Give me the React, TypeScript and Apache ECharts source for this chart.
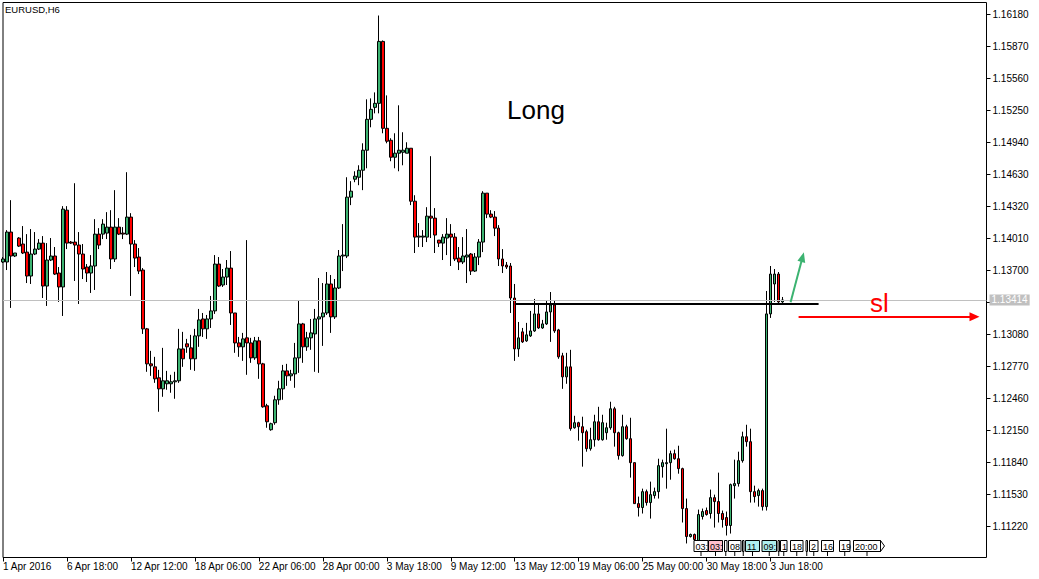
import React, { useEffect, useRef } from "react";
import * as echarts from "echarts";

// ---- candle data (EURUSD H6) ----
const openP = [
  1.13782,1.13782,1.14072,1.13840,1.14014,1.13956,1.13878,1.13646,1.13859,1.13907,
  1.13965,1.13549,1.13801,1.13840,1.13675,1.13540,1.14284,1.13975,1.13975,1.13946,
  1.13859,1.13733,1.13675,1.13743,1.14052,1.14052,1.14062,1.14120,1.13811,1.14120,
  1.14062,1.14052,1.14217,1.13956,1.13830,1.13704,1.13134,1.12795,1.12766,1.12660,
  1.12553,1.12602,1.12602,1.12621,1.12631,1.12940,1.12989,1.12950,1.12844,1.13066,
  1.13230,1.13134,1.13230,1.13308,1.13762,1.13559,1.13636,1.13723,1.13288,1.12998,
  1.12960,1.13047,1.12998,1.12853,1.13018,1.12795,1.12389,1.12157,1.12225,1.12447,
  1.12553,1.12727,1.12679,1.12698,1.12853,1.13182,1.12960,1.13047,1.13085,1.13230,
  1.13250,1.13288,1.13569,1.13250,1.13530,1.13840,1.13840,1.14410,1.14584,1.14603,
  1.14671,1.14865,1.15164,1.15280,1.15319,1.15919,1.15077,1.14961,1.14797,1.14836,
  1.14845,1.14836,1.14884,1.14371,1.14023,1.14023,1.14023,1.14226,1.14207,1.13994,
  1.13965,1.14014,1.14052,1.14023,1.13820,1.13782,1.13830,1.13859,1.13694,1.13830,
  1.13975,1.14449,1.14246,1.14217,1.14110,1.13811,1.13752,1.13743,1.13433,1.12940,
  1.13105,1.13018,1.13066,1.13114,1.13279,1.13143,1.13182,1.13298,1.13366,1.13124,
  1.12873,1.12669,1.12766,1.12176,1.12225,1.12186,1.12138,1.11973,1.12060,1.12234,
  1.12060,1.12128,1.12176,1.12360,1.12128,1.11906,1.12186,1.12070,1.11838,1.11441,
  1.11403,1.11557,1.11451,1.11519,1.11557,1.11799,1.11828,1.11838,1.11925,1.11876,
  1.11780,1.11393,1.11122,1.11142,1.11084,1.11316,1.11374,1.11345,1.11499,1.11461,
  1.11345,1.11306,1.11229,1.11615,1.11635,1.11857,1.12089,1.12041,1.11557,1.11519,
  1.11567,1.11412,1.13279,1.13569,1.13665,1.13395
];
const closeP = [
  1.13811,1.14072,1.13840,1.13869,1.13936,1.13869,1.13646,1.13859,1.13907,1.13965,
  1.13549,1.13801,1.13840,1.13665,1.13540,1.14294,1.13965,1.13965,1.13946,1.13859,
  1.13714,1.13675,1.13743,1.14052,1.13946,1.14149,1.14120,1.13811,1.14120,1.14052,
  1.14052,1.14217,1.13956,1.13820,1.13694,1.13134,1.12795,1.12776,1.12650,1.12553,
  1.12631,1.12631,1.12621,1.12631,1.12940,1.12844,1.12960,1.12844,1.13066,1.13221,
  1.13134,1.13230,1.13308,1.13762,1.13549,1.13636,1.13723,1.13288,1.12998,1.12960,
  1.13037,1.12998,1.12853,1.13018,1.12795,1.12379,1.12234,1.12215,1.12447,1.12553,
  1.12727,1.12679,1.12698,1.12853,1.13182,1.12960,1.13047,1.13095,1.13230,1.13250,
  1.13288,1.13569,1.13250,1.13530,1.13840,1.13849,1.14410,1.14468,1.14613,1.14671,
  1.14865,1.15164,1.15261,1.15319,1.15919,1.15077,1.14952,1.14797,1.14836,1.14865,
  1.14865,1.14884,1.14371,1.14023,1.14033,1.14033,1.14226,1.14207,1.14043,1.13965,
  1.14023,1.14052,1.14023,1.13811,1.13782,1.13840,1.13849,1.13694,1.13830,1.13975,
  1.14449,1.14246,1.14217,1.14110,1.13811,1.13743,1.13733,1.13433,1.12940,1.13047,
  1.13008,1.13076,1.13114,1.13279,1.13143,1.13182,1.13298,1.13366,1.13114,1.12863,
  1.12669,1.12766,1.12167,1.12225,1.12186,1.12128,1.11973,1.12060,1.12234,1.12060,
  1.12225,1.12176,1.12360,1.12128,1.11906,1.12186,1.12070,1.11838,1.11441,1.11403,
  1.11557,1.11451,1.11528,1.11557,1.11809,1.11838,1.11838,1.11925,1.11876,1.11780,
  1.11393,1.11122,1.11142,1.11093,1.11335,1.11364,1.11335,1.11499,1.11461,1.11345,
  1.11287,1.11229,1.11625,1.11635,1.11857,1.12089,1.12041,1.11557,1.11509,1.11567,
  1.11412,1.13279,1.13665,1.13665,1.13395,1.13414
];
const lowP = [
  1.13772,1.13704,1.13337,1.13830,1.13927,1.13859,1.13578,1.13569,1.13849,1.13898,
  1.13433,1.13356,1.13791,1.13656,1.13395,1.13259,1.13907,1.13956,1.13598,1.13375,
  1.13617,1.13588,1.13482,1.13511,1.13907,1.14004,1.14004,1.13714,1.13782,1.14043,
  1.14004,1.14043,1.13453,1.13733,1.13665,1.13085,1.12718,1.12679,1.12611,1.12331,
  1.12476,1.12544,1.12515,1.12457,1.12611,1.12766,1.12902,1.12737,1.12727,1.12960,
  1.13056,1.13037,1.13143,1.13279,1.13540,1.13540,1.13559,1.13172,1.12902,1.12863,
  1.12824,1.12689,1.12805,1.12834,1.12650,1.12370,1.12176,1.12147,1.12205,1.12399,
  1.12447,1.12582,1.12631,1.12563,1.12708,1.12805,1.12921,1.12931,1.12718,1.12708,
  1.12969,1.13269,1.13095,1.13230,1.13520,1.13694,1.13820,1.14333,1.14555,1.14526,
  1.14478,1.14690,1.15087,1.15222,1.15222,1.15029,1.14932,1.14758,1.14690,1.14661,
  1.14719,1.14836,1.14333,1.13869,1.13927,1.13927,1.13975,1.14014,1.13869,1.13927,
  1.13801,1.13849,1.13743,1.13791,1.13704,1.13762,1.13578,1.13656,1.13685,1.13752,
  1.13878,1.14207,1.14207,1.14033,1.13743,1.13675,1.13714,1.13288,1.12824,1.12863,
  1.12998,1.13008,1.13056,1.13105,1.13134,1.13134,1.13172,1.13008,1.13095,1.12844,
  1.12553,1.12602,1.12147,1.12167,1.12051,1.11799,1.11944,1.11954,1.11993,1.12051,
  1.12051,1.12060,1.12157,1.11993,1.11867,1.11896,1.12060,1.11693,1.11441,1.11316,
  1.11345,1.11422,1.11296,1.11490,1.11490,1.11693,1.11586,1.11673,1.11867,1.11731,
  1.11258,1.11055,1.11113,1.11084,1.11074,1.11287,1.11325,1.11296,1.11209,1.11258,
  1.11209,1.11132,1.11151,1.11490,1.11606,1.11838,1.11993,1.11451,1.11451,1.11412,
  1.11374,1.11374,1.13240,1.13395,1.13375,1.13385
];
const highP = [
  1.13830,1.14091,1.14381,1.13869,1.14023,1.14130,1.14052,1.14101,1.14072,1.14004,
  1.14033,1.13965,1.14014,1.13927,1.13733,1.14323,1.14323,1.13985,1.14545,1.14072,
  1.13956,1.13762,1.13849,1.14197,1.14110,1.14197,1.14265,1.14284,1.14478,1.14207,
  1.14120,1.14652,1.14255,1.13994,1.13917,1.13723,1.13143,1.12921,1.12863,1.12737,
  1.12950,1.12727,1.12689,1.12718,1.13134,1.13105,1.13037,1.13076,1.13134,1.13327,
  1.13288,1.13269,1.13453,1.13849,1.13830,1.13714,1.13801,1.13888,1.13288,1.13056,
  1.13095,1.13994,1.13047,1.13056,1.13056,1.12805,1.12408,1.12225,1.12486,1.12631,
  1.12785,1.12795,1.12737,1.12998,1.13404,1.13192,1.13105,1.13230,1.13327,1.13627,
  1.13578,1.13685,1.13656,1.13617,1.13898,1.14149,1.14603,1.14565,1.14661,1.14719,
  1.14932,1.15358,1.15367,1.15425,1.16170,1.15928,1.15396,1.14981,1.15029,1.15300,
  1.15039,1.14942,1.14884,1.14429,1.14159,1.14091,1.14313,1.14807,1.14304,1.13994,
  1.14052,1.14207,1.14149,1.14062,1.13927,1.14023,1.14101,1.13869,1.13869,1.14004,
  1.14468,1.14449,1.14284,1.14275,1.14139,1.13907,1.13782,1.13772,1.13569,1.13201,
  1.13143,1.13192,1.13308,1.13424,1.13366,1.13221,1.13404,1.13491,1.13404,1.13134,
  1.12902,1.12902,1.12931,1.12292,1.12234,1.12283,1.12157,1.12176,1.12302,1.12379,
  1.12302,1.12225,1.12428,1.12379,1.12138,1.12302,1.12205,1.12273,1.11838,1.11509,
  1.11586,1.11577,1.11654,1.11596,1.11876,1.11867,1.12167,1.11954,1.11964,1.12002,
  1.11789,1.11490,1.11151,1.11151,1.11383,1.11393,1.11403,1.11577,1.11528,1.11741,
  1.11374,1.11364,1.11635,1.11867,1.11944,1.12138,1.12205,1.12167,1.11615,1.11586,
  1.11586,1.13501,1.13743,1.13714,1.13685,1.13443
];

// time axis: 247 H6 slots fit the plot (196 candles + right shift)
const slotCount = 247;
const slotsPerLabel = 16;
const xTickLabels = [
  "1 Apr 2016", "6 Apr 18:00", "12 Apr 12:00", "18 Apr 06:00", "22 Apr 06:00",
  "28 Apr 00:00", "3 May 18:00", "9 May 12:00", "13 May 12:00", "19 May 06:00",
  "25 May 00:00", "30 May 18:00", "3 Jun 18:00"
];
const yTickValues = [
  1.1122, 1.1153, 1.1184, 1.1215, 1.1246, 1.1277, 1.1308, 1.1339, 1.137,
  1.1401, 1.1432, 1.1463, 1.1494, 1.1525, 1.1556, 1.1587, 1.1618
];
// 1.13390 sits under the bid-price box, so its label is hidden there
const yLabelValues = yTickValues.filter((v) => v !== 1.1339);
const yMin = 1.10919;
const yMax = 1.16296;

// annotations
const bidPrice = 1.13414;
const levelLine = { from: 128, to: 204, price: 1.13375 };
const greenArrow = { from: [197, 1.13392], to: [200, 1.1383] };
const slArrow = { from: 199, to: 243, price: 1.13252 };

const timeBoxes = [
  { x: 694, w: 14, t: "03:", fill: "#ffffff" },
  { x: 708.5, w: 14, t: "03:", fill: "#ffc0cb" },
  { x: 724.5, w: 2.5, t: "", fill: "#ffffff" },
  { x: 728.5, w: 12.5, t: "08", fill: "#ffffff" },
  { x: 742.5, w: 1.5, t: "", fill: "#ffffff" },
  { x: 745.5, w: 14, t: "11", fill: "#afeeee" },
  { x: 762, w: 14.5, t: "09:", fill: "#afeeee" },
  { x: 778, w: 1.5, t: "", fill: "#ffffff" },
  { x: 780.5, w: 6.5, t: "1", fill: "#ffffff" },
  { x: 790.5, w: 12.5, t: "18", fill: "#ffffff" },
  { x: 806, w: 1.5, t: "", fill: "#ffffff" },
  { x: 809.5, w: 8.5, t: "2", fill: "#ffffff" },
  { x: 821.5, w: 12, t: "16", fill: "#ffffff" },
  { x: 839.5, w: 10.5, t: "19", fill: "#ffffff" },
  { x: 853.5, w: 27, t: "20:00", fill: "#ffffff" }
];

const BULL = "#3cb371";
const BEAR = "#ff0000";
const FONT = "'Liberation Sans', Arial, sans-serif";

export default function App() {
  const ref = useRef<HTMLDivElement>(null);

  useEffect(() => {
    if (!ref.current) return;
    const chart = echarts.init(ref.current, undefined, { renderer: "svg" });

    const categories = Array.from({ length: slotCount }, (_, i) => String(i));
    const candles = openP.map((o, i) => [o, closeP[i], lowP[i], highP[i]]);
    const isTick = (i: number) =>
      i % slotsPerLabel === 0 && i / slotsPerLabel < xTickLabels.length;

    const boxEls: any[] = [];
    timeBoxes.forEach((b, k) => {
      boxEls.push({
        type: "rect",
        shape: { x: b.x, y: 540.5, width: b.w, height: 11 },
        style: { fill: b.fill, stroke: "#000", lineWidth: 1 },
        z: 10 + 2 * k,
      });
      if (b.t) {
        boxEls.push({
          type: "text",
          x: b.x + 1.5,
          y: 546.5,
          style: {
            text: b.t, fill: "#000", fontSize: 9, fontFamily: FONT,
            textVerticalAlign: "middle", verticalAlign: "middle",
          },
          z: 11 + 2 * k,
        });
      }
      boxEls.push({
        type: "line",
        shape: { x1: b.x + b.w / 2, y1: 552, x2: b.x + b.w / 2, y2: 556 },
        style: { stroke: "#000", lineWidth: 1 },
        z: 10,
      });
    });
    const last = timeBoxes[timeBoxes.length - 1];
    boxEls.push({
      type: "polygon",
      shape: { points: [[last.x + last.w, 540.5], [last.x + last.w + 4, 546], [last.x + last.w, 551.5]] },
      style: { fill: "#fff", stroke: "#000", lineWidth: 1 },
      z: 60,
    });

    chart.setOption({
      animation: false,
      backgroundColor: "#ffffff",
      grid: {
        left: 2.5, top: 2.5, width: 984, height: 555,
        show: true, borderColor: "#000", borderWidth: 1, backgroundColor: "#fff",
      },
      xAxis: {
        type: "category",
        data: categories,
        boundaryGap: false,
        axisLine: { show: false },
        axisTick: {
          show: true, length: 4, interval: (i: number) => isTick(i),
          lineStyle: { color: "#000", width: 1 },
        },
        axisLabel: {
          show: true,
          interval: (i: number) => isTick(i),
          formatter: (v: string) => xTickLabels[Number(v) / slotsPerLabel] ?? "",
          align: "left",
          margin: 4,
          color: "#000",
          fontSize: 10,
          fontFamily: FONT,
        },
        splitLine: { show: false },
      },
      yAxis: {
        type: "value",
        position: "right",
        min: yMin,
        max: yMax,
        axisLine: { show: false },
        splitLine: { show: false },
        axisTick: {
          show: true, length: 4, customValues: yTickValues,
          lineStyle: { color: "#000", width: 1 },
        },
        axisLabel: {
          show: true,
          customValues: yLabelValues,
          formatter: (v: number) => v.toFixed(5),
          color: "#000",
          fontSize: 10,
          fontFamily: FONT,
          margin: 6,
        },
      },
      series: [
        {
          type: "line",
          data: [],
          z: 1,
          silent: true,
          markLine: {
            silent: true,
            symbol: ["none", "none"],
            data: [
              [
                {
                  coord: [0, bidPrice],
                  lineStyle: { color: "#c0c0c0", type: "solid", width: 1 },
                  label: {
                    show: true,
                    position: "end",
                    distance: 3,
                    formatter: bidPrice.toFixed(5),
                    color: "#ffffff",
                    backgroundColor: "#c0c0c0",
                    fontSize: 10,
                    fontFamily: FONT,
                    padding: [0, 2, 0, 2],
                    lineHeight: 11,
                  },
                },
                { coord: [slotCount - 1, bidPrice] },
              ],
            ],
          },
        },
        {
          type: "candlestick",
          data: candles,
          barWidth: 3,
          z: 2,
          itemStyle: {
            color: BULL,
            color0: BEAR,
            borderColor: "#000",
            borderColor0: "#000",
            borderColorDoji: "#000",
            borderWidth: 1,
          },
        },
        {
          type: "line",
          data: [],
          z: 3,
          silent: true,
          markLine: {
            silent: true,
            label: { show: false },
            data: [
              [
                { coord: [levelLine.from, levelLine.price], symbol: "none", lineStyle: { color: "#000", width: 2, type: "solid" } },
                { coord: [levelLine.to, levelLine.price], symbol: "none" },
              ],
              [
                { coord: [slArrow.from, slArrow.price], symbol: "none", lineStyle: { color: "#ff0000", width: 2, type: "solid" } },
                { coord: [slArrow.to, slArrow.price], symbol: "triangle", symbolSize: [9, 10] },
              ],
              [
                { coord: greenArrow.from, symbol: "none", lineStyle: { color: BULL, width: 2, type: "solid" } },
                { coord: greenArrow.to, symbol: "triangle", symbolSize: [8, 10] },
              ],
            ],
          },
        },
      ],
      graphic: [
        {
          type: "text",
          x: 5,
          y: 9,
          style: {
            text: "EURUSD,H6", fill: "#000", fontSize: 9.5, fontFamily: FONT,
            textVerticalAlign: "middle", verticalAlign: "middle",
          },
          z: 20,
        },
        {
          type: "text",
          x: 507,
          y: 110,
          style: {
            text: "Long", fill: "#000", fontSize: 26, fontFamily: FONT,
            textVerticalAlign: "middle", verticalAlign: "middle",
          },
          z: 20,
        },
        {
          type: "text",
          x: 870,
          y: 303,
          style: {
            text: "sl", fill: "#ff0000", fontSize: 26, fontFamily: FONT,
            textVerticalAlign: "middle", verticalAlign: "middle",
          },
          z: 20,
        },
        ...boxEls,
      ],
    });

    return () => chart.dispose();
  }, []);

  return (
    <div
      ref={ref}
      style={{ position: "fixed", left: 0, top: 0, width: 1039, height: 579, background: "#fff" }}
    />
  );
}
